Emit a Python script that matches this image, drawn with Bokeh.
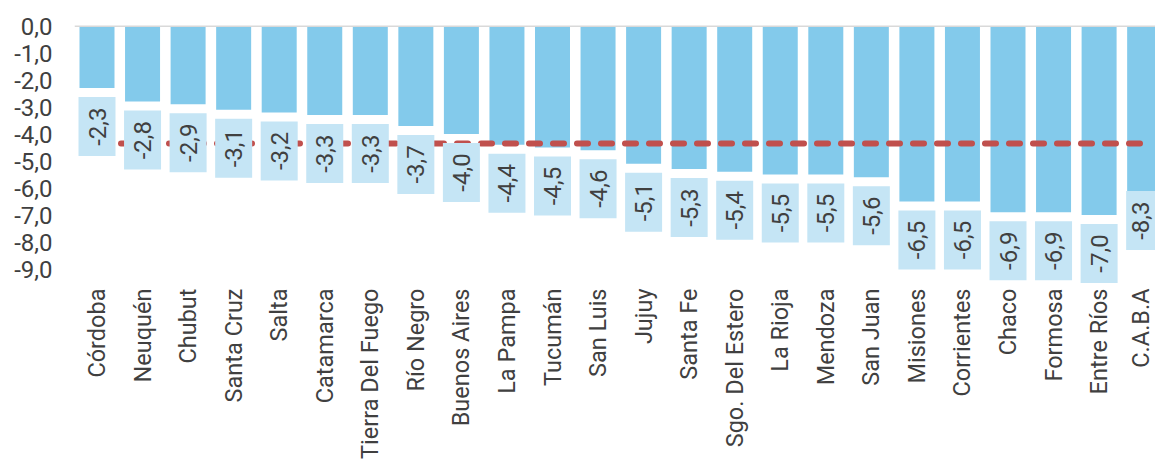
import math
from bokeh.plotting import figure
from bokeh.models import Range1d, FixedTicker, Span, ColumnDataSource
from bokeh.core.properties import value
from bokeh.embed import file_html
from bokeh.resources import INLINE

# ---------------- data ----------------
provincias = ["Córdoba", "Neuquén", "Chubut", "Santa Cruz", "Salta", "Catamarca",
              "Tierra Del Fuego", "Río Negro", "Buenos Aires", "La Pampa", "Tucumán",
              "San Luis", "Jujuy", "Santa Fe", "Sgo. Del Estero", "La Rioja", "Mendoza",
              "San Juan", "Misiones", "Corrientes", "Chaco", "Formosa", "Entre Ríos", "C.A.B.A"]
variacion = [-2.3, -2.8, -2.9, -3.1, -3.2, -3.3, -3.3, -3.7, -4.0, -4.4, -4.5, -4.6,
             -5.1, -5.3, -5.4, -5.5, -5.5, -5.6, -6.5, -6.5, -6.9, -6.9, -7.0, -8.3]
promedio = -4.35
y_ticks = [0, -1, -2, -3, -4, -5, -6, -7, -8, -9]
y_tick_labels = ["0,0", "-1,0", "-2,0", "-3,0", "-4,0", "-5,0", "-6,0", "-7,0", "-8,0", "-9,0"]

# ---------------- layout ----------------
W, H = 1155, 461
LEFT, TOP = 74, 25
PX_X = 45.55          # pixels per category
PX_Y = 27.0           # pixels per unit
FIRST_CENTER = 96.5   # px of first category centre inside figure
ZERO_PX = 25.5        # px of value 0 inside figure
BAR_W = 35
BOX_W, BOX_H, BOX_GAP = 37, 59, 9
CAT_LABEL_TOP = 262.5  # px below zero where category labels start
PLOT_MIN = -9.6
TEXT_MAX_PX = W - 15   # keep texts inside the chart area

x_start = -(FIRST_CENTER - LEFT) / PX_X
x_end = x_start + (W - LEFT) / PX_X
y_end = (ZERO_PX - TOP) / PX_Y
y_start = y_end - (H - TOP) / PX_Y

TEXT = "#404040"
FONT = "Roboto"

idx = list(range(len(provincias)))

box_y = []
for v in variacion:
    if v - (BOX_GAP + BOX_H) / PX_Y < PLOT_MIN:
        box_y.append(v + (BOX_H / 2) / PX_Y)          # inside end
    else:
        box_y.append(v - (BOX_GAP + BOX_H / 2) / PX_Y)  # outside end

x_max_text = x_start + (TEXT_MAX_PX - LEFT) / PX_X
lab_x = [min(i, x_max_text) for i in idx]

src = ColumnDataSource(dict(
    x=idx,
    lab_x=lab_x,
    v=variacion,
    name=provincias,
    box_y=box_y,
    lab=[f"{v:.1f}".replace(".", ",") for v in variacion],
    cat_y=[-CAT_LABEL_TOP / PX_Y] * len(idx),
))

p = figure(width=W, height=H, output_backend="svg", toolbar_location=None,
           x_range=Range1d(x_start, x_end), y_range=Range1d(y_start, y_end),
           x_axis_location=None, min_border_left=LEFT, min_border_right=0,
           min_border_top=TOP, min_border_bottom=0, outline_line_color=None,
           background_fill_color="white", border_fill_color="white")
p.grid.visible = False

# y axis
ya = p.yaxis[0]
ya.ticker = FixedTicker(ticks=y_ticks)
ya.major_label_overrides = {t: s for t, s in zip(y_ticks, y_tick_labels)}
ya.axis_line_color = None
ya.major_tick_line_color = None
ya.minor_tick_line_color = None
ya.major_tick_out = 0
ya.major_tick_in = 0
ya.major_label_standoff = 22
ya.major_label_text_font = FONT
ya.major_label_text_font_size = "24px"
ya.major_label_text_color = TEXT

# bars
p.vbar(x="x", top=0, bottom="v", width=BAR_W / PX_X, source=src,
       fill_color="#83CAEB", line_color=None)

# average line
p.line(x=[idx[0], idx[-1]], y=[promedio, promedio], line_color="#C0504D",
       line_width=6, line_dash="11 13", line_cap="round")

# label boxes
p.rect(x="x", y="box_y", width=BOX_W, height=BOX_H, width_units="screen",
       height_units="screen", source=src, fill_color="#C5E5F5", line_color=None)
p.text(x="lab_x", y="box_y", text="lab", angle=math.pi / 2, source=src,
       text_align="center", text_baseline="middle", text_font=value(FONT),
       text_font_size=value("24px"), text_color=TEXT)

# category labels
p.text(x="lab_x", y="cat_y", text="name", angle=math.pi / 2, source=src,
       text_align="right", text_baseline="middle", text_font=value(FONT),
       text_font_size=value("23.5px"), text_color=TEXT)

# zero line
p.add_layout(Span(location=0, dimension="width", line_color="#D9D9D9", line_width=2))

open("out.html", "w").write(file_html(p, INLINE))
